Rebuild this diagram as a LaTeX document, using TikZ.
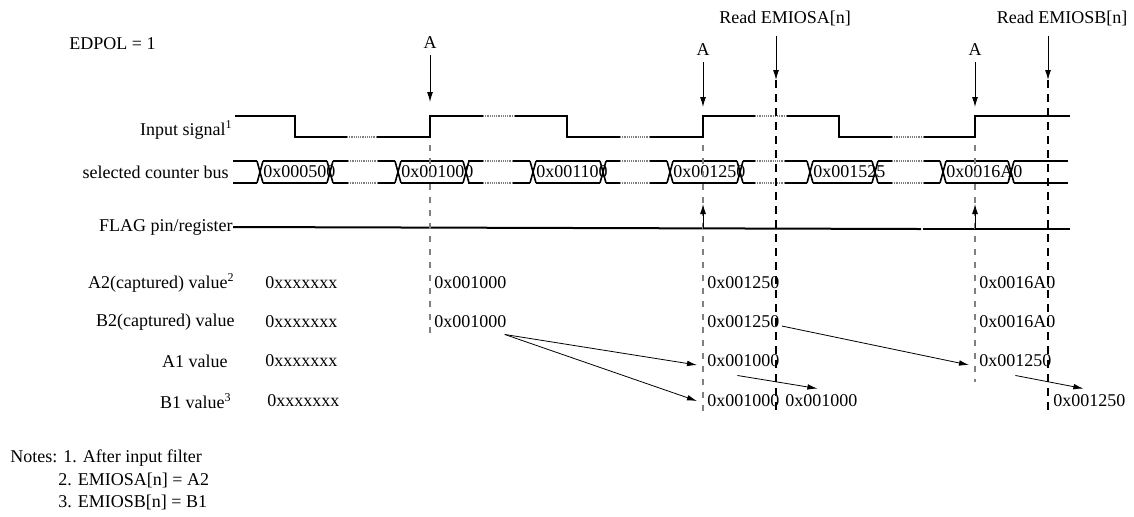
\documentclass[tikz,border=0pt]{standalone}
\usepackage{fontspec}
\setmainfont{Liberation Serif}
\usetikzlibrary{arrows.meta, positioning}

\begin{document}
\begin{tikzpicture}[
  x=0.5pt, y=-0.5pt,
  txt/.style={font=\fontsize{9}{11}\selectfont, inner sep=0pt},
  lbl/.style={txt, anchor=east},
  val/.style={txt, anchor=west, inner sep=1pt},
  sig/.style={line width=1pt},
  bus/.style={line width=0.8pt},
  gapdots/.style={draw=gray, dash pattern=on 0.6pt off 0.5pt, line width=0.9pt,
                  preaction={draw=white, solid, line width=1.8pt}},
  capline/.style={gray, line width=0.7pt, dash pattern=on 3pt off 3.5pt},
  rdline/.style={line width=1pt, dash pattern=on 4pt off 3pt},
  arr/.style={-{Latex[length=5pt,width=3pt]}, line width=0.5pt},
  carr/.style={-{Latex[length=5pt,width=2.8pt]}, line width=0.4pt}
]
\useasboundingbox (0,0) rectangle (1134,516);

% headings
\node[txt, anchor=west] (edpol) at (69,44) {EDPOL = 1};
\node[txt] (rda) at (785,18) {Read EMIOSA[n]};
\node[txt] (rdb) at (1062,18) {Read EMIOSB[n]};
\node[txt] (ea1) at (430,43) {A};
\node[txt] (ea2) at (703,50) {A};
\node[txt] (ea3) at (975,50) {A};

% row labels
\node[lbl] (insig) at (233,130) {Input signal\textsuperscript{1}};
\node[lbl] (busl)  at (229,172) {selected counter bus};
\node[lbl] (flagl) at (233,227) {FLAG pin/register};
\node[lbl] (a2l) at (235,283) {A2(captured) value\textsuperscript{2}};
\node[lbl] (b2l) at (235,322) {B2(captured) value};
\node[lbl] (a1l) at (228,361) {A1 value};
\node[lbl] (b1l) at (232,401) {B1 value\textsuperscript{3}};

% input signal
\draw[sig] (235,116) -- (295,116) -- (295,137) -- (430,137) -- (430,116)
  -- (567,116) -- (567,137) -- (703,137) -- (703,116) -- (839,116)
  -- (839,137) -- (975,137) -- (975,116) -- (1070,116);
\foreach \a/\b/\y in {347/377/137, 483/515/116, 620/650/137, 755/787/116, 892/923/137}
  \draw[gapdots] (\a,\y) -- (\b,\y);

% counter bus
\foreach \a/\b in {233/257, 263/327, 333/395, 401/463, 468/530, 536/600,
                   606/667, 673/737, 743/807, 813/872, 878/940, 946/1008, 1014/1068}
  \draw[bus] (\a,161) -- (\b,161) (\a,183) -- (\b,183);
\foreach \c in {257,327,395,463,530,600,667,737,807,872,940,1008}
  \draw[bus] (\c,161) -- (\c+6,183) (\c,183) -- (\c+6,161);
\foreach \a/\b in {348/378, 483/513, 620/650, 755/785, 892/923}
  \draw[gapdots] (\a,161) -- (\b,161) (\a,183) -- (\b,183);
\node[txt, anchor=west] (bv1) at (263,172) {0x000500};
\node[txt, anchor=west] (bv2) at (401,172) {0x001000};
\node[txt, anchor=west] (bv3) at (536,172) {0x001100};
\node[txt, anchor=west] (bv4) at (673,172) {0x001250};
\node[txt, anchor=west] (bv5) at (813,172) {0x001525};
\node[txt, anchor=west] (bv6) at (946,172) {0x0016A0};

% flag line
\draw[sig] (flagl.east) -- (921,229);
\draw[sig] (923,229) -- (1070,229);

% capture marks
\draw[capline] (430,145) -- (430,337);
\draw[capline] (703,145) -- (703,416);
\draw[capline] (975,145) -- (975,382);
\coordinate (ta1) at (430,102);
\coordinate (ta2) at (703,107);
\coordinate (ta3) at (975,107);
\draw[arr, shorten <=3pt] (ea1.south) -- (ta1);
\draw[arr, shorten <=3pt] (ea2.south) -- (ta2);
\draw[arr, shorten <=3pt] (ea3.south) -- (ta3);
\coordinate (fa2) at (703,229);
\coordinate (ft2) at (703,204);
\coordinate (fa3) at (975,229);
\coordinate (ft3) at (975,204);
\draw[arr] (fa2) -- (ft2);
\draw[arr] (fa3) -- (ft3);

% register reads
\coordinate (ra) at (776,80);
\coordinate (rb) at (1048,80);
\draw[arr, shorten <=5pt] (rda.south -| ra) -- (ra);
\draw[arr, shorten <=5pt] (rdb.south -| rb) -- (rb);
\draw[rdline] (ra) -- (776,410);
\draw[rdline] (rb) -- (1048,413);

% values
\node[val] (a2v0) at (263,283) {0xxxxxxx};
\node[val] (b2v0) at (263,322) {0xxxxxxx};
\node[val] (a1v0) at (263,361) {0xxxxxxx};
\node[val] (b1v0) at (265,401) {0xxxxxxx};
\node[val] (a2v1) at (432,283) {0x001000};
\node[val] (b2v1) at (432,322) {0x001000};
\node[val] (a2v2) at (705,283) {0x001250};
\node[val] (b2v2) at (705,322) {0x001250};
\node[val] (a1v1) at (705,361) {0x001000};
\node[val] (b1v1) at (705,401) {0x001000};
\node[val] (b1v2) at (783,401) {0x001000};
\node[val] (a2v3) at (977,283) {0x0016A0};
\node[val] (b2v3) at (977,322) {0x0016A0};
\node[val] (a1v3) at (977,361) {0x001250};
\node[val] (b1v3) at (1051,401) {0x001250};

% transfers
\draw[carr] ([xshift=-2pt,yshift=-2pt]b2v1.south east) -- ([xshift=-4pt,yshift=-2pt]a1v1.west);
\draw[carr] ([xshift=-2pt,yshift=-2pt]b2v1.south east) -- ([xshift=-4pt]b1v1.west);
\draw[carr] ([xshift=-3pt,yshift=-3pt]a1v1.south) -- ([xshift=-2pt,yshift=2pt]b1v2.north);
\draw[carr] ([yshift=-2pt]b2v2.east) -- ([xshift=-4pt,yshift=-2pt]a1v3.west);
\draw[carr] ([yshift=-3pt]a1v3.south) -- ([xshift=-3pt,yshift=2pt]b1v3.north);

% notes
\node[txt, anchor=west] (notes) at (10,458) {Notes: 1. After input filter};
\node[txt, anchor=west] (note2) at (58,480) {2. EMIOSA[n] = A2};
\node[txt, anchor=west] (note3) at (58,502) {3. EMIOSB[n] = B1};
\end{tikzpicture}
\end{document}
